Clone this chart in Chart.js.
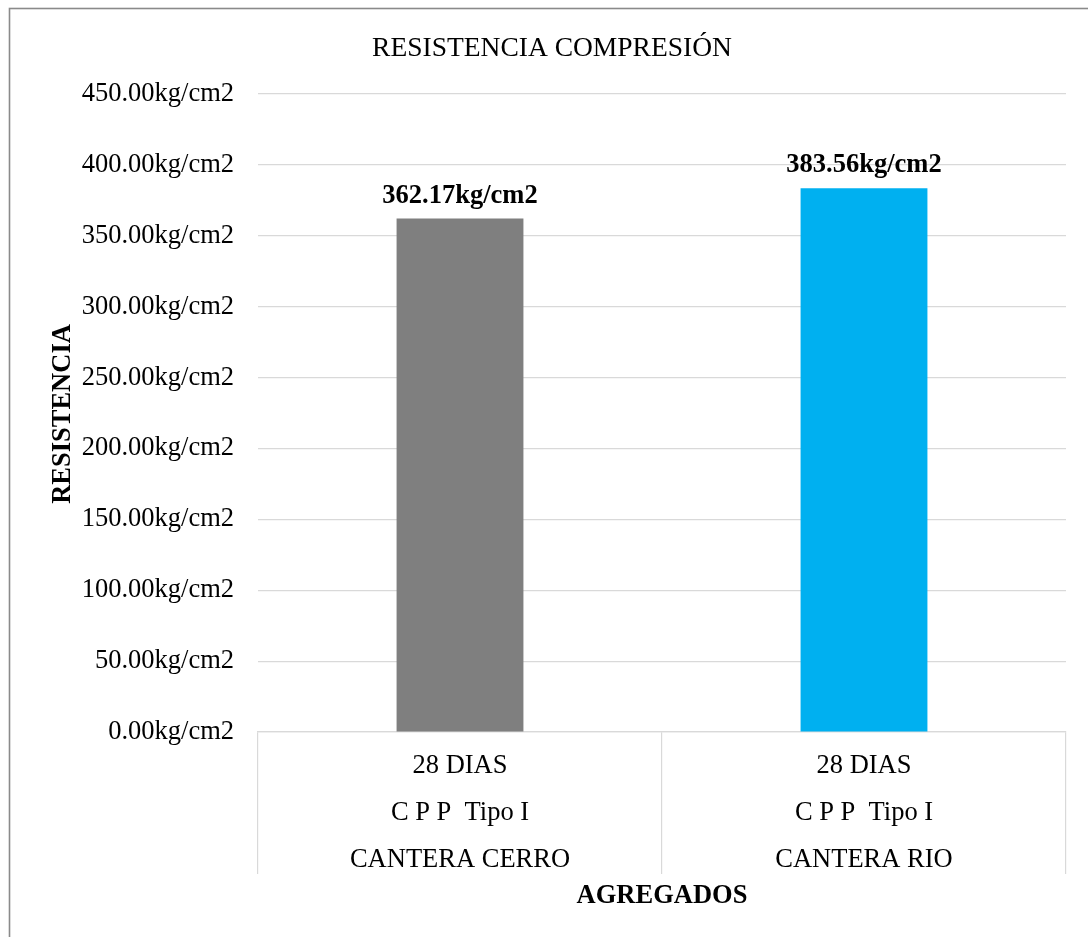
<!DOCTYPE html>
<html>
<head>
<meta charset="utf-8">
<script src="https://cdn.jsdelivr.net/npm/chart.js@4"></script>
<style>
  html, body { margin: 0; padding: 0; background: #ffffff; }
  canvas { display: block; }
</style>
</head>
<body>
<canvas id="chart" width="1088" height="937"></canvas>
<script>
// Compressive strength at 28 days per aggregate source
const categories = [
  ['28 DIAS', 'C P P  Tipo I', 'CANTERA CERRO'],
  ['28 DIAS', 'C P P  Tipo I', 'CANTERA RIO']
];
const resistencia = [362.17, 383.56];
const barColors = ['#7F7F7F', '#00B0F0'];
const yTicksMin = 0;
const yTicksMax = 450;
const yTicksStep = 50;
const chartTitle = 'RESISTENCIA COMPRESIÓN';
const yTitle = 'RESISTENCIA';
const xTitle = 'AGREGADOS';

const SERIF = '"Liberation Serif", "Times New Roman", serif';
const fmt = v => v.toFixed(2) + 'kg/cm2';

// frame, titles and bar value labels
const decorations = {
  id: 'decorations',
  beforeDraw(chart) {
    const ctx = chart.ctx;
    ctx.save();
    ctx.fillStyle = '#ffffff';
    ctx.fillRect(0, 0, chart.width, chart.height);
    ctx.strokeStyle = '#8a8a8a';
    ctx.lineWidth = 1.6;
    ctx.strokeRect(9.5, 8.5, 1200, 1200);
    ctx.restore();
  },
  afterDatasetsDraw(chart) {
    const ctx = chart.ctx;
    const meta = chart.getDatasetMeta(0);
    ctx.save();
    ctx.fillStyle = '#000000';
    ctx.font = 'bold 26.5px ' + SERIF;
    ctx.textAlign = 'center';
    ctx.textBaseline = 'alphabetic';
    meta.data.forEach((bar, i) => {
      ctx.fillText(fmt(resistencia[i]), bar.x, bar.y - 16);
    });
    ctx.restore();
  },
  afterDraw(chart) {
    const ctx = chart.ctx;
    const area = chart.chartArea;
    ctx.save();
    ctx.fillStyle = '#000000';
    ctx.textAlign = 'center';
    ctx.textBaseline = 'alphabetic';
    ctx.font = '27.5px ' + SERIF;
    ctx.fillText(chartTitle, 552, 56);
    ctx.font = 'bold 26.5px ' + SERIF;
    ctx.fillText(xTitle, (area.left + area.right) / 2, 903);
    ctx.translate(70, 414);
    ctx.rotate(-Math.PI / 2);
    ctx.fillText(yTitle, 0, 0);
    ctx.restore();
  }
};

new Chart(document.getElementById('chart'), {
  type: 'bar',
  data: {
    labels: categories,
    datasets: [{
      data: resistencia,
      backgroundColor: barColors,
      borderWidth: 0,
      barPercentage: 0.314,
      categoryPercentage: 1
    }]
  },
  options: {
    responsive: false,
    animation: false,
    devicePixelRatio: 1,
    layout: { padding: { left: 0, right: 22, top: 94, bottom: 62 } },
    plugins: {
      legend: { display: false },
      title: { display: false },
      tooltip: { enabled: false }
    },
    scales: {
      x: {
        afterFit(scale) { scale.height = 143; },
        grid: {
          drawOnChartArea: false,
          drawTicks: true,
          tickLength: 142,
          color: '#d9d9d9',
          lineWidth: 1.2
        },
        border: { display: true, color: '#d9d9d9', width: 1.2 },
        ticks: {
          autoSkip: false,
          maxRotation: 0,
          minRotation: 0,
          padding: -131.5,
          color: '#000000',
          font: { family: SERIF, size: 26.5, lineHeight: 1.774 }
        }
      },
      y: {
        min: yTicksMin,
        max: yTicksMax,
        afterFit(scale) { scale.width = 258; },
        grid: { drawTicks: false, color: '#d9d9d9', lineWidth: 1.2 },
        border: { display: false },
        ticks: {
          stepSize: yTicksStep,
          padding: 24,
          color: '#000000',
          font: { family: SERIF, size: 26.5 },
          callback: v => fmt(v)
        }
      }
    }
  },
  plugins: [decorations]
});
</script>
</body>
</html>
